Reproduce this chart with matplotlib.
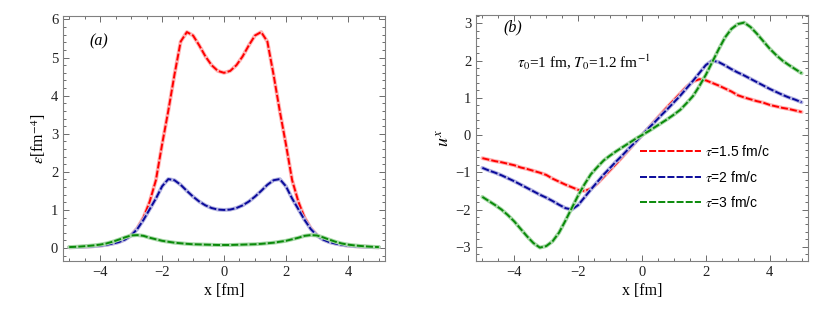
import numpy as np
import matplotlib
matplotlib.use("Agg")
import matplotlib.pyplot as plt
from matplotlib.ticker import MultipleLocator

plt.rcParams['font.family'] = ['Liberation Serif', 'DejaVu Serif']
plt.rcParams['mathtext.fontset'] = 'stix'

# common x grid (fm)
x = np.round(np.arange(-5.0, 5.0001, 0.2), 2)

# Panel (a): energy density
eps_15 = [0.02, 0.025, 0.032, 0.04, 0.05, 0.065, 0.085, 0.12, 0.16, 0.23, 0.34, 0.52, 0.80, 1.22, 1.78, 2.72,
          3.60, 4.55, 5.42, 5.67, 5.58, 5.32, 5.03, 4.80, 4.65, 4.60, 4.65, 4.80, 5.03, 5.32, 5.58, 5.67,
          5.42, 4.55, 3.60, 2.72, 1.78, 1.22, 0.80, 0.52, 0.34, 0.23, 0.16, 0.12, 0.085, 0.065, 0.05, 0.04,
          0.032, 0.025, 0.02]
eps_2 = [0.02, 0.025, 0.032, 0.04, 0.05, 0.065, 0.085, 0.115, 0.155, 0.22, 0.33, 0.50, 0.74, 1.02, 1.30, 1.62,
         1.81, 1.78, 1.66, 1.50, 1.35, 1.22, 1.12, 1.05, 1.01, 1.00, 1.01, 1.05, 1.12, 1.22, 1.35, 1.50,
         1.66, 1.78, 1.81, 1.62, 1.30, 1.02, 0.74, 0.50, 0.33, 0.22, 0.155, 0.115, 0.085, 0.065, 0.05, 0.04,
         0.032, 0.025, 0.02]
eps_3 = [0.025, 0.032, 0.042, 0.055, 0.07, 0.09, 0.12, 0.165, 0.22, 0.28, 0.33, 0.34, 0.32, 0.27, 0.23, 0.19,
         0.165, 0.14, 0.125, 0.11, 0.10, 0.095, 0.09, 0.085, 0.08, 0.08, 0.08, 0.085, 0.09, 0.095, 0.10, 0.11,
         0.125, 0.14, 0.165, 0.19, 0.23, 0.27, 0.32, 0.34, 0.33, 0.28, 0.22, 0.165, 0.12, 0.09, 0.07, 0.055,
         0.042, 0.032, 0.025]

# Panel (b): flow velocity u^x
u_15 = [-0.62, -0.66, -0.70, -0.73, -0.77, -0.81, -0.87, -0.91, -0.96, -1.01, -1.07, -1.17, -1.25, -1.33, -1.40,
        -1.47, -1.50, -1.44, -1.30, -1.12, -0.94, -0.76, -0.57, -0.38, -0.19, 0.0, 0.19, 0.38, 0.57, 0.76,
        0.94, 1.12, 1.30, 1.44, 1.50, 1.47, 1.40, 1.33, 1.25, 1.17, 1.07, 1.01, 0.96, 0.91, 0.87, 0.81,
        0.77, 0.73, 0.70, 0.66, 0.62]
u_2 = [-0.88, -0.95, -1.01, -1.08, -1.16, -1.24, -1.33, -1.42, -1.51, -1.60, -1.68, -1.77, -1.87, -1.96, -2.00,
       -1.88, -1.67, -1.46, -1.26, -1.06, -0.88, -0.70, -0.53, -0.35, -0.18, 0.0, 0.18, 0.35, 0.53, 0.70,
       0.88, 1.06, 1.26, 1.46, 1.67, 1.88, 2.00, 1.96, 1.87, 1.77, 1.68, 1.60, 1.51, 1.42, 1.33, 1.24,
       1.16, 1.08, 1.01, 0.95, 0.88]
u_3 = [-1.66, -1.77, -1.88, -2.00, -2.15, -2.32, -2.52, -2.72, -2.90, -3.02, -2.98, -2.85, -2.62, -2.30, -1.96,
       -1.62, -1.32, -1.05, -0.86, -0.68, -0.55, -0.43, -0.32, -0.21, -0.10, 0.0, 0.10, 0.21, 0.32, 0.43,
       0.55, 0.68, 0.86, 1.05, 1.32, 1.62, 1.96, 2.30, 2.62, 2.85, 2.98, 3.02, 2.90, 2.72, 2.52, 2.32,
       2.15, 2.00, 1.88, 1.77, 1.66]

labels = [r"$\tau$=1.5 fm/c", r"$\tau$=2 fm/c", r"$\tau$=3 fm/c"]
dark = ['#ff0000', '#0a0a9a', '#0a8a0a']
light = ['#ffb4b4', '#b4b4e2', '#a8d8a8']

fig = plt.figure(figsize=(8.30, 3.12), dpi=100)
axa = fig.add_axes([0.0759, 0.1635, 0.388, 0.785])
axb = fig.add_axes([0.5735, 0.1635, 0.400, 0.788])

dash = (0, (3.6, 1.1))

def style(ax):
    for s in ax.spines.values():
        s.set_color('#808080')
        s.set_linewidth(0.8)
    ax.tick_params(which='both', direction='in', top=True, right=True, colors='#555555',
                   labelcolor='#222222', labelsize=10.5, width=0.6)
    ax.tick_params(which='major', length=4)
    ax.tick_params(which='minor', length=2)
    ax.xaxis.set_major_locator(MultipleLocator(2))
    ax.xaxis.set_minor_locator(MultipleLocator(0.5))
    ax.yaxis.set_major_locator(MultipleLocator(1))
    ax.yaxis.set_minor_locator(MultipleLocator(0.2))
    ax.set_xlim(-5.2, 5.2)
    ax.set_xlabel("x [fm]", fontsize=11.5, labelpad=3)

for ys, d, l in zip([eps_15, eps_2, eps_3], dark, light):
    axa.plot(x, ys, color=l, lw=2.8, solid_capstyle='round')
    axa.plot(x, ys, color=d, lw=1.4, ls=dash)
style(axa)
axa.set_ylim(-0.34, 6.09)
axa.set_ylabel(r"$\epsilon$[fm$^{-4}$]", fontsize=11.5, labelpad=2)
axa.text(0.112, 0.898, "(a)", transform=axa.transAxes, fontsize=11.5, style='italic',
         ha='center', va='center')

handles = []
for ys, d, l, lab in zip([u_15, u_2, u_3], dark, light, labels):
    axb.plot(x, ys, color=l, lw=2.8, solid_capstyle='round')
    h, = axb.plot(x, ys, color=d, lw=1.4, ls=dash, label=lab)
    handles.append(h)
style(axb)
axb.set_ylim(-3.38, 3.22)
axb.set_ylabel(r"$u^x$", fontsize=13, labelpad=2)
axb.text(0.111, 0.951, "(b)", transform=axb.transAxes, fontsize=11.5, style='italic',
         ha='center', va='center')
axb.text(0.123, 0.809, r"$\tau_0$=1 fm, $T_0$=1.2 fm$^{-1}$", transform=axb.transAxes,
         fontsize=11, ha='left', va='center')
leg = axb.legend(handles=handles, loc='upper left', bbox_to_anchor=(0.494, 0.475),
                 frameon=False, handlelength=4.4, handletextpad=0.3, labelspacing=0.75,
                 borderpad=0, borderaxespad=0,
                 prop={'family': ['Liberation Sans', 'DejaVu Sans'], 'size': 10})

fig.savefig("out.png", dpi=100)
